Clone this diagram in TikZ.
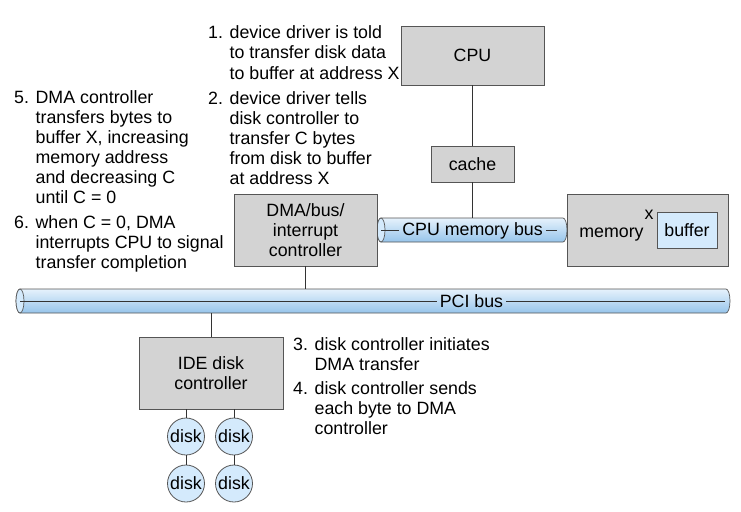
\documentclass[tikz,border=0pt]{standalone}
\usepackage{fontspec}
\setmainfont{Liberation Sans}
\definecolor{boxgray}{RGB}{211,211,211}
\definecolor{boxline}{RGB}{85,85,85}
\definecolor{bustop}{RGB}{230,242,252}
\definecolor{busbot}{RGB}{150,196,235}
\definecolor{lightblue}{RGB}{212,234,252}
\begin{document}
\begin{tikzpicture}[x=1pt,y=-1pt,
        font=\fontsize{17.8}{20}\selectfont,
        box/.style={draw=boxline,fill=boxgray,line width=0.8pt,align=center,inner sep=0pt},
        disk/.style={circle,draw=boxline,fill=lightblue,line width=0.8pt,minimum size=37pt,inner sep=0pt},
        wire/.style={draw=black!80,line width=0.7pt},
        note/.style={anchor=base west,inner sep=0pt}]
    \useasboundingbox (0,0) rectangle (741,511);
    % buses
    \foreach \xa/\xb/\yc in {20/726/301,381/563/230} {
        \shadedraw[top color=bustop,bottom color=busbot,draw=boxline,line width=0.7pt]
            (\xa,\yc-12) -- (\xb,\yc-12) arc[start angle=-90,end angle=90,x radius=4,y radius=12]
            -- (\xa,\yc+12) arc[start angle=90,end angle=270,x radius=4,y radius=12] -- cycle;
        \draw[boxline,fill=lightblue,line width=0.7pt] (\xa,\yc) ellipse[x radius=4,y radius=12];
    }
    \coordinate (pci l) at (20,301);
    \coordinate (pci r) at (725,301);
    \coordinate (pci top) at (20,289);
    \coordinate (pci bot) at (20,313);
    \coordinate (mem l) at (381,230);
    \coordinate (mem r) at (557,230);
    \coordinate (mem top) at (381,218);
    \node[inner sep=3pt] (pcitxt) at (471.5,301.5) {PCI bus};
    \node[inner sep=3pt] (memtxt) at (472.5,230.5) {CPU memory bus};
    \draw[wire] (pci l) -- (pcitxt.west |- pci l);
    \draw[wire] (pcitxt.east |- pci l) -- (pci r);
    \draw[wire] (mem l) -- (memtxt.west |- mem l);
    \draw[wire] (memtxt.east |- mem l) -- (mem r);
    % boxes
    \node[box,minimum width=143,minimum height=59] (cpu) at (472.5,55.5) {CPU};
    \node[box,minimum width=83,minimum height=36] (cache) at (472.5,164) {cache};
    \node[box,minimum width=143,minimum height=72] (dma) at (305.5,230) {DMA/bus/\\interrupt\\controller};
    \node[box,minimum width=161,minimum height=72] (memory) at (647.5,230) {};
    \node[box,fill=lightblue,minimum width=60,minimum height=36] (buffer) at (687,230) {buffer};
    \node[anchor=base] (memlbl) at (611.5,237) {memory};
    \node[anchor=base] (xlbl) at (649,219) {x};
    \node[box,minimum width=144,minimum height=72] (ide) at (211,373) {IDE disk\\controller};
    \foreach \i/\x in {1/186,2/234} {
        \node[disk] (upper\i) at (\x,436.5) {disk};
        \node[disk] (lower\i) at (\x,483.5) {disk};
        \draw[wire] (ide.south -| upper\i) -- (upper\i);
        \draw[wire] (upper\i) -- (lower\i);
    }
    % connections
    \draw[wire] (cpu) -- (cache);
    \draw[wire] (cache) -- (cache.south |- mem top);
    \draw[wire] (dma) -- (dma.south |- pci top);
    \draw[wire] (ide) -- (ide.north |- pci bot);
    % steps
    \node[note] (step1) at (208,39) {\begin{tabular}[t]{@{}l@{ }l@{}}1.&device driver is told\\&to transfer disk data\\&to buffer at address X\end{tabular}};
    \node[note] (step2) at (208,104) {\begin{tabular}[t]{@{}l@{ }l@{}}2.&device driver tells\\&disk controller to\\&transfer C bytes\\&from disk to buffer\\&at address X\end{tabular}};
    \node[note] (step3) at (293,350) {\begin{tabular}[t]{@{}l@{ }l@{}}3.&disk controller initiates\\&DMA transfer\end{tabular}};
    \node[note] (step4) at (293,394) {\begin{tabular}[t]{@{}l@{ }l@{}}4.&disk controller sends\\&each byte to DMA\\&controller\end{tabular}};
    \node[note] (step5) at (14,103) {\begin{tabular}[t]{@{}l@{ }l@{}}5.&DMA controller\\&transfers bytes to\\&buffer X, increasing\\&memory address\\&and decreasing C\\&until C = 0\end{tabular}};
    \node[note] (step6) at (14,228) {\begin{tabular}[t]{@{}l@{ }l@{}}6.&when C = 0, DMA\\&interrupts CPU to signal\\&transfer completion\end{tabular}};
\end{tikzpicture}
\end{document}
